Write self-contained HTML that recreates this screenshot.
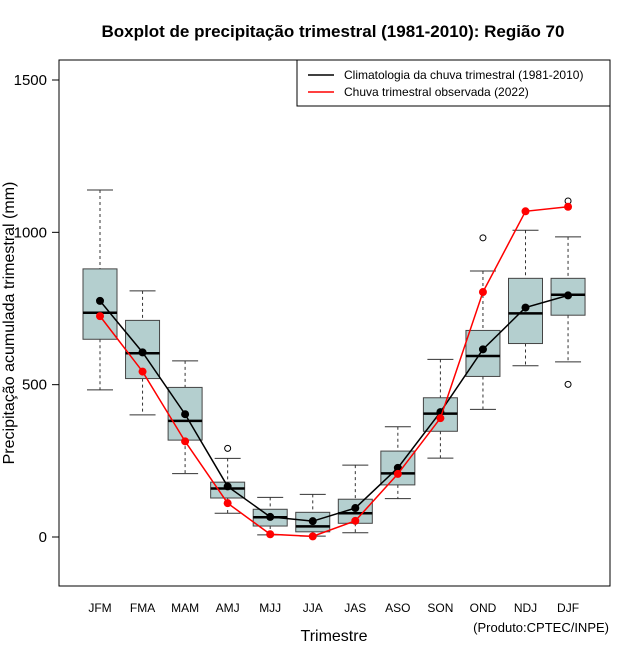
<!DOCTYPE html>
<html><head><meta charset="utf-8"><style>
body{margin:0;background:#fff}
svg{display:block;font-family:"Liberation Sans",Arial,sans-serif}
</style></head><body>
<svg id="chart" width="640" height="660" viewBox="0 0 640 660" xmlns="http://www.w3.org/2000/svg">
<text x="333" y="37" text-anchor="middle" font-size="17" font-weight="bold">Boxplot de precipitação trimestral (1981-2010): Região 70</text>
<rect x="59" y="60" width="551" height="526" fill="none" stroke="#000" stroke-width="1"/>
<g id="yaxis"></g>
<g id="xaxis"></g>
<g id="boxes"></g>
<g id="lines"></g>
<text transform="translate(14,323) rotate(-90)" text-anchor="middle" font-size="16">Precipitação acumulada trimestral (mm)</text>
<text x="334" y="641" text-anchor="middle" font-size="16">Trimestre</text>
<text x="609" y="632" text-anchor="end" font-size="13">(Produto:CPTEC/INPE)</text>
<g>
<rect x="297" y="60" width="313" height="46" fill="#fff" stroke="#000"/>
<g><line x1="308" y1="75" x2="334" y2="75" stroke="#000" stroke-width="1.5"/><text x="344" y="79" font-size="12">Climatologia da chuva trimestral (1981-2010)</text></g>
<g><line x1="308" y1="92" x2="334" y2="92" stroke="red" stroke-width="1.5"/><text x="344" y="96" font-size="12">Chuva trimestral observada (2022)</text></g>
</g>
</svg>
<script>
const categories=["JFM","FMA","MAM","AMJ","MJJ","JJA","JAS","ASO","SON","OND","NDJ","DJF"];
const whiskerLow=[483,401,208,78,7,3,14,126,259,419,562,575];
const q1=[649,520,318,128,36,17,45,171,347,527,635,728];
const median=[736,603,381,159,65,35,78,209,405,594,734,795];
const q3=[880,711,491,180,91,81,124,282,457,678,849,849];
const whiskerHigh=[1139,808,578,258,130,140,236,362,583,873,1007,985];
const outliers=[[],[],[],[291],[],[],[],[],[],[982],[],[1103,501]];
const climatology=[775,606,403,166,66,52,95,227,410,616,753,793];
const observed=[725,543,314,111,9,2,53,207,390,804,1069,1084];
const yTicks=[0,500,1000,1500];
const NS="http://www.w3.org/2000/svg";
const xs=i=>100+i*42.55;
const ys=v=>537-v*0.30467;
function mk(tag,attrs,parent){const e=document.createElementNS(NS,tag);for(const k in attrs)e.setAttribute(k,attrs[k]);parent.appendChild(e);return e;}
const ya=document.getElementById('yaxis');
yTicks.forEach(t=>{
 const g=mk('g',{},ya);
 
 
 mk('line',{x1:52,x2:59,y1:ys(t),y2:ys(t),stroke:'#000'},g);
 const tx=mk('text',{x:47,y:ys(t)+5,'text-anchor':'end','font-size':15},g);tx.textContent=t;
});
const xa=document.getElementById('xaxis');
categories.forEach((c,i)=>{
 const t=mk('text',{x:xs(i),y:612,'text-anchor':'middle','font-size':12},xa);
 
 
 t.textContent=c;
});
const bx=document.getElementById('boxes');
categories.forEach((c,i)=>{
 const g=mk('g',{},bx);
 
 
 const x=xs(i),hw=17,cw=13;
 mk('line',{x1:x,x2:x,y1:ys(whiskerHigh[i]),y2:ys(q3[i]),stroke:'#333','stroke-dasharray':'3,3'},g);
 mk('line',{x1:x,x2:x,y1:ys(q1[i]),y2:ys(whiskerLow[i]),stroke:'#333','stroke-dasharray':'3,3'},g);
 mk('line',{x1:x-cw,x2:x+cw,y1:ys(whiskerHigh[i]),y2:ys(whiskerHigh[i]),stroke:'#333'},g);
 mk('line',{x1:x-cw,x2:x+cw,y1:ys(whiskerLow[i]),y2:ys(whiskerLow[i]),stroke:'#333'},g);
 mk('rect',{x:x-hw,y:ys(q3[i]),width:2*hw,height:ys(q1[i])-ys(q3[i]),fill:'#b4cfcf',stroke:'#444'},g);
 mk('line',{x1:x-hw,x2:x+hw,y1:ys(median[i]),y2:ys(median[i]),stroke:'#000','stroke-width':2.5},g);
 outliers[i].forEach(o=>mk('circle',{cx:x,cy:ys(o),r:3,fill:'none',stroke:'#000'},g));
});
const ln=document.getElementById('lines');
[[climatology,'#000','climatology'],[observed,'red','observed']].forEach(([arr,col,nm])=>{
 const g=mk('g',{},ln);
 
 
 mk('polyline',{points:arr.map((v,i)=>xs(i)+','+ys(v)).join(' '),fill:'none',stroke:col,'stroke-width':1.5},g);
 arr.forEach((v,i)=>mk('circle',{cx:xs(i),cy:ys(v),r:4,fill:col},g));
});
</script>
</body></html>
